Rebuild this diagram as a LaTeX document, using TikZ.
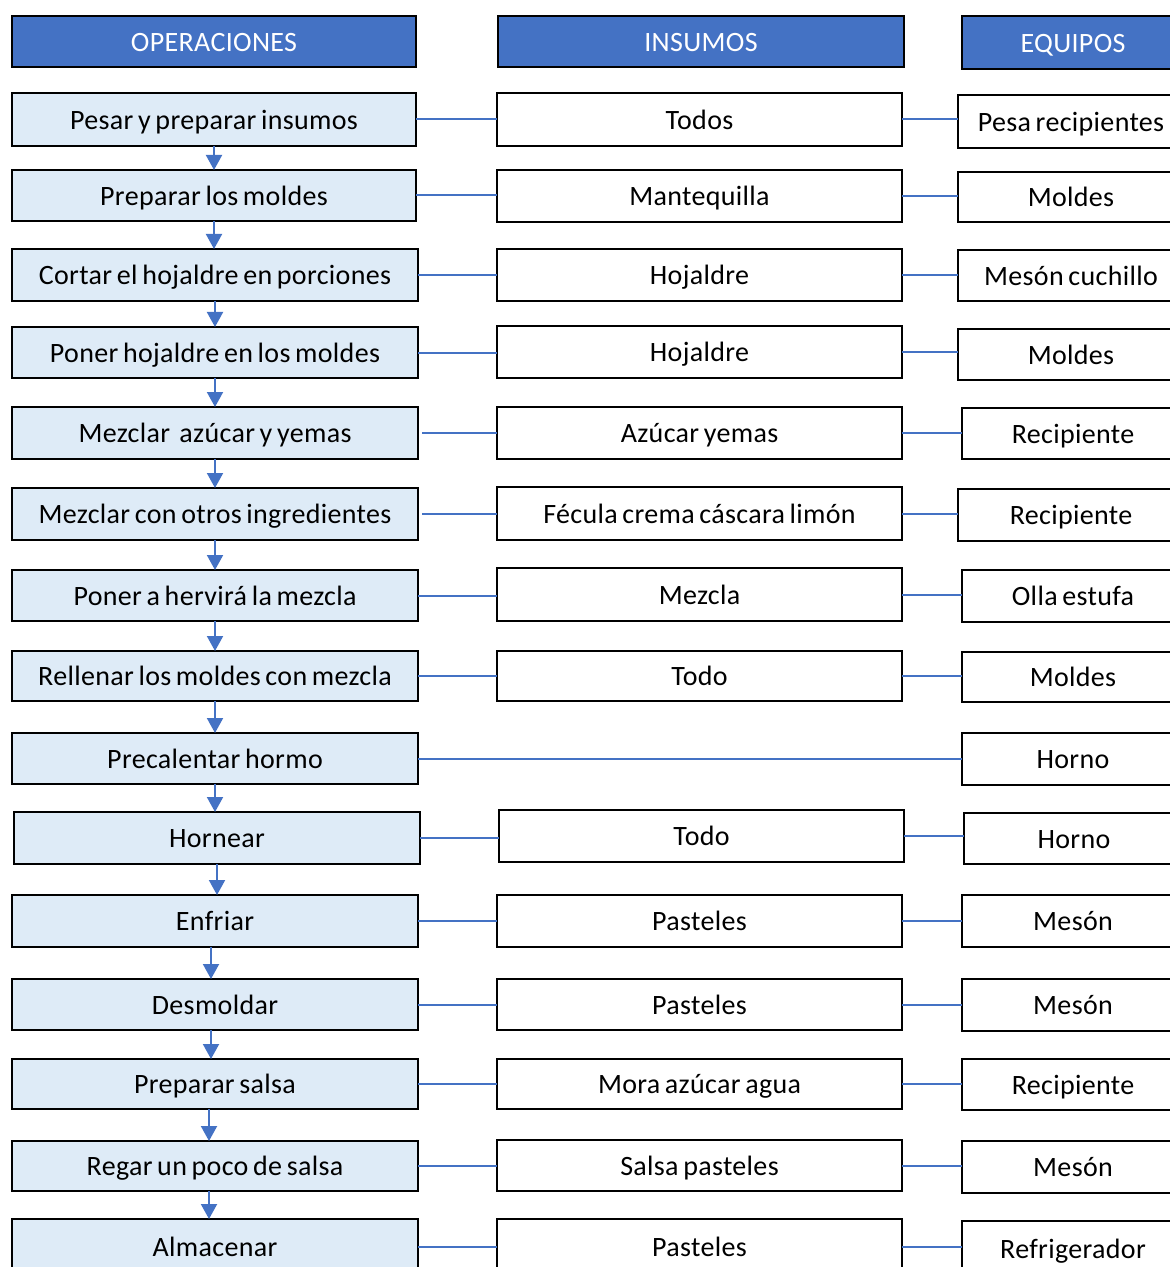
\documentclass[tikz,border=0pt]{standalone}
\usepackage{fontspec}
\setmainfont{Carlito}[LetterSpace=1.2, WordSpace=0.7]
\usetikzlibrary{arrows.meta}
\definecolor{hdrblue}{HTML}{4472C4}
\definecolor{oplight}{HTML}{DEEBF7}
\definecolor{linkblue}{HTML}{4472C4}
\tikzset{
  boxbase/.style={draw=black, line width=1pt, inner sep=0pt, outer sep=0pt,
    font=\fontsize{14}{16}\selectfont, text=black,
    text height=10.6pt, text depth=1pt},
  hdrbox/.style={boxbase, fill=hdrblue, text=white},
  opbox/.style={boxbase, fill=oplight},
  inbox/.style={boxbase, fill=white},
  eqbox/.style={boxbase, fill=white},
  link/.style={draw=linkblue, line width=1pt},
  flow/.style={draw=linkblue, line width=1pt, -{Triangle[width=8pt,length=7.5pt]}},
}
% box given by its corners in pixel units (y grows downward)
\newcommand\placebox[7]{%
  \node[#6, minimum width={(#4-#2)*0.5pt}, minimum height={(#5-#3)*0.5pt}]
    (#1) at ({(#2+#4)/2},{(#3+#5)/2}) {#7};}
\begin{document}
\begin{tikzpicture}[x=0.5pt, y=-0.5pt]
\useasboundingbox (0,0) rectangle (1170,1267);
\clip (0,0) rectangle (1170,1267);

% column headers
\placebox{h1}{12}{16}{416}{67}{hdrbox}{OPERACIONES}
\placebox{h2}{498}{16}{904}{67}{hdrbox}{INSUMOS}
\placebox{h3}{962}{16}{1184}{69}{hdrbox}{EQUIPOS}

% operations
\placebox{p1}{12}{93}{416}{146}{opbox}{Pesar y preparar insumos}
\placebox{p2}{12}{170}{416}{221}{opbox}{Preparar los moldes}
\placebox{p3}{12}{249}{418}{301}{opbox}{Cortar el hojaldre en porciones}
\placebox{p4}{12}{327}{418}{378}{opbox}{Poner hojaldre en los moldes}
\placebox{p5}{12}{407}{418}{459}{opbox}{Mezclar\ \ azúcar y yemas}
\placebox{p6}{12}{488}{418}{540}{opbox}{Mezclar con otros ingredientes}
\placebox{p7}{12}{570}{418}{621}{opbox}{Poner a hervirá la mezcla}
\placebox{p8}{12}{651}{418}{701}{opbox}{Rellenar los moldes con mezcla}
\placebox{p9}{12}{733}{418}{784}{opbox}{Precalentar hormo}
\placebox{p10}{14}{812}{420}{864}{opbox}{Hornear}
\placebox{p11}{12}{895}{418}{947}{opbox}{Enfriar}
\placebox{p12}{12}{979}{418}{1030}{opbox}{Desmoldar}
\placebox{p13}{12}{1059}{418}{1109}{opbox}{Preparar salsa}
\placebox{p14}{12}{1141}{418}{1191}{opbox}{Regar un poco de salsa}
\placebox{p15}{12}{1219}{418}{1275}{opbox}{Almacenar}

% supplies
\placebox{i1}{497}{93}{902}{146}{inbox}{Todos}
\placebox{i2}{497}{170}{902}{222}{inbox}{Mantequilla}
\placebox{i3}{497}{249}{902}{301}{inbox}{Hojaldre}
\placebox{i4}{497}{326}{902}{378}{inbox}{Hojaldre}
\placebox{i5}{497}{407}{902}{459}{inbox}{Azúcar yemas}
\placebox{i6}{497}{487}{902}{540}{inbox}{Fécula crema cáscara limón}
\placebox{i7}{497}{568}{902}{621}{inbox}{Mezcla}
\placebox{i8}{497}{651}{902}{701}{inbox}{Todo}
\placebox{i10}{499}{810}{904}{862}{inbox}{Todo}
\placebox{i11}{497}{895}{902}{947}{inbox}{Pasteles}
\placebox{i12}{497}{979}{902}{1030}{inbox}{Pasteles}
\placebox{i13}{497}{1059}{902}{1109}{inbox}{Mora azúcar agua}
\placebox{i14}{497}{1140}{902}{1191}{inbox}{Salsa pasteles}
\placebox{i15}{497}{1219}{902}{1275}{inbox}{Pasteles}

% equipment
\placebox{e1}{958}{95}{1184}{148}{eqbox}{Pesa recipientes}
\placebox{e2}{958}{172}{1184}{222}{eqbox}{Moldes}
\placebox{e3}{958}{250}{1184}{301}{eqbox}{Mesón cuchillo}
\placebox{e4}{958}{329}{1184}{380}{eqbox}{Moldes}
\placebox{e5}{962}{408}{1184}{459}{eqbox}{Recipiente}
\placebox{e6}{958}{489}{1184}{541}{eqbox}{Recipiente}
\placebox{e7}{962}{570}{1184}{622}{eqbox}{Olla estufa}
\placebox{e8}{962}{652}{1184}{702}{eqbox}{Moldes}
\placebox{e9}{962}{733}{1184}{785}{eqbox}{Horno}
\placebox{e10}{964}{813}{1184}{864}{eqbox}{Horno}
\placebox{e11}{962}{895}{1184}{947}{eqbox}{Mesón}
\placebox{e12}{962}{979}{1184}{1031}{eqbox}{Mesón}
\placebox{e13}{962}{1059}{1184}{1110}{eqbox}{Recipiente}
\placebox{e14}{962}{1141}{1184}{1193}{eqbox}{Mesón}
\placebox{e15}{962}{1221}{1184}{1277}{eqbox}{Refrigerador}

% operation -> supply -> equipment links
\foreach \k in {1,2,3,4,7,8,10,11,12,13,14,15}{
  \draw[link] (p\k.east) -- (p\k.east -| i\k.west);
  \draw[link] (i\k.east) -- (i\k.east -| e\k.west);
}
\foreach \k in {5,6}{
  \draw[link] ([xshift=2pt]p\k.east) -- (p\k.east -| i\k.west);
  \draw[link] (i\k.east) -- (i\k.east -| e\k.west);
}
\draw[link] (p9.east) -- (p9.east -| e9.west);

% process flow
\foreach \a/\b in {1/2,2/3,3/4,4/5,5/6,6/7,7/8,8/9,9/10,10/11}{
  \draw[flow] (p\a.south) -- (p\a.south |- p\b.north);
}
\draw[flow] ([xshift=-2pt]p11.south) -- ([xshift=-2pt]p11.south |- p12.north);
\draw[flow] ([xshift=-2pt]p12.south) -- ([xshift=-2pt]p12.south |- p13.north);
\draw[flow] ([xshift=-3pt]p13.south) -- ([xshift=-3pt]p13.south |- p14.north);
\draw[flow] ([xshift=-3pt]p14.south) -- ([xshift=-3pt]p14.south |- p15.north);
\end{tikzpicture}
\end{document}
